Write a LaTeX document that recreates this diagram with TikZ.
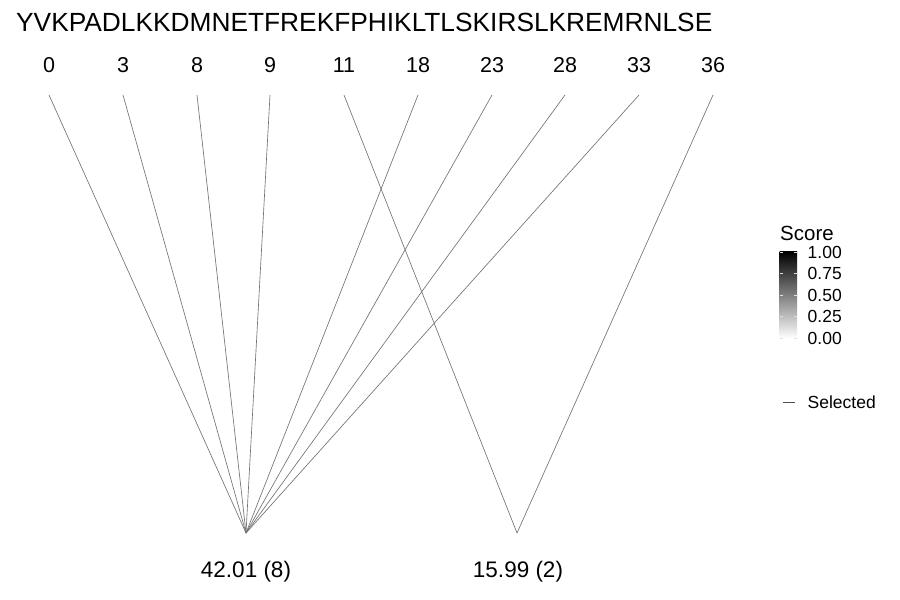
\documentclass[tikz,border=0pt]{standalone}
\usepackage{fontspec}
\setmainfont{Liberation Sans}
\begin{document}
\begin{tikzpicture}[x=1pt,y=-1pt,
  link/.style={draw=black!55, line width=0.65pt},
  numlab/.style={font=\fontsize{21.5}{22}\selectfont, inner sep=0pt, anchor=base},
  botlab/.style={font=\fontsize{22.5}{23}\selectfont, inner sep=0pt, anchor=base},
  leglab/.style={font=\fontsize{17.5}{18}\selectfont, inner sep=0pt, anchor=west},
  tick/.style={draw=white!75!gray, line width=0.5pt}]
\useasboundingbox (0,0) rectangle (900,600);
\fill[white] (0,0) rectangle (900,600);
% sequence
\node[font=\fontsize{26.3}{27}\selectfont, inner sep=0pt, anchor=base west] (seq) at (16,31.5) {YVKPADLKKDMNETFREKFPHIKLTLSKIRSLKREMRNLSE};
% position labels and top coordinates
\foreach \n/\x in {0/49,3/123,8/197,9/270,11/344,18/418,23/492,28/565,33/639,36/713}{
  \node[numlab] (n\n) at (\x,72) {\n};
  \coordinate (t\n) at (\x,95);
}
% bottom points and labels
\coordinate (b1) at (246,533);
\coordinate (b2) at (517,533);
\node[botlab] (l1) at (246,577) {42.01 (8)};
\node[botlab] (l2) at (518,577) {15.99 (2)};
% connectors
\foreach \n in {0,3,8,9,18,23,28,33}{ \draw[link] (t\n) -- (b1); }
\foreach \n in {11,36}{ \draw[link] (t\n) -- (b2); }
% legend
\node[font=\fontsize{20.5}{21}\selectfont, inner sep=0pt, anchor=base west] (score) at (780,240) {Score};
\shade[top color=black, bottom color=white] (779.5,251.5) rectangle (797,338.5);
\foreach \v/\y in {1.00/252,0.75/273.5,0.50/295,0.25/316.5,0.00/338}{
  \draw[tick] (779.5,\y) -- (783,\y);
  \draw[tick] (793.5,\y) -- (797,\y);
  \node[leglab] at (807.5,\y) {\v};
}
\coordinate (s1) at (783,402);
\coordinate (s2) at (795,402);
\draw[draw=black!70, line width=0.7pt] (s1) -- (s2);
\node[leglab] (sel) at (807.5,402) {Selected};
\end{tikzpicture}
\end{document}
